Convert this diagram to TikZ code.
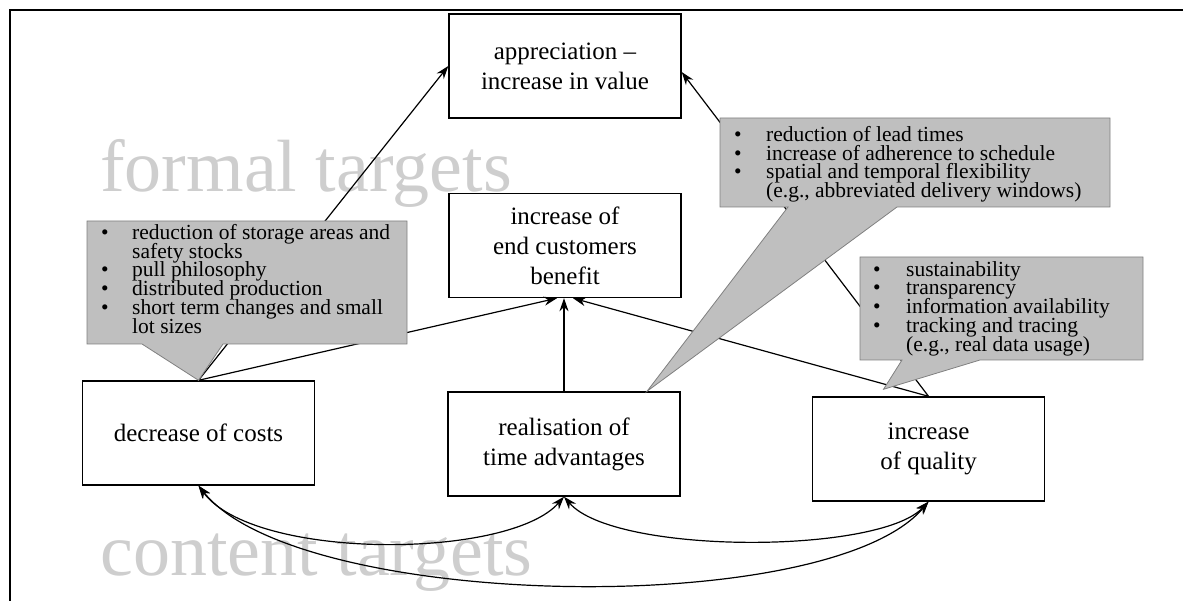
\documentclass[tikz,border=0pt]{standalone}
\usepackage{fontspec}
\setmainfont{Liberation Serif}
\usetikzlibrary{arrows.meta}
\definecolor{calloutfill}{RGB}{191,191,191}
\definecolor{calloutedge}{RGB}{128,128,128}
\definecolor{watermarkgray}{RGB}{206,206,206}
% tightly set text for the note bubbles
\newcommand\notefont{\fontsize{21.5}{18.8}\selectfont\lineskiplimit=-100pt\relax}

\begin{document}
\begin{tikzpicture}[x=1pt,y=-1pt,
  target/.style={draw, line width=1.4pt, fill=white, minimum width=232pt,
    minimum height=104pt, inner sep=0pt, align=center,
    font=\fontsize{25}{30}\selectfont},
  link/.style={line width=1.2pt, -{Stealth[length=13pt,width=9pt]}},
  both/.style={line width=1.2pt,
    {Stealth[length=13pt,width=9pt]}-{Stealth[length=13pt,width=9pt]}},
  bubble/.style={fill=calloutfill, draw=calloutedge, line width=0.8pt},
  bubbletext/.style={anchor=north west, inner sep=0pt, align=left,
    font=\notefont},
  watermark/.style={text=watermarkgray, font=\fontsize{74}{80}\selectfont,
    anchor=base west, inner sep=0pt}
]
\useasboundingbox (0,0) rectangle (1183,601);

% frame
\draw[line width=2.5pt] (10,601) -- (10,10) -- (1183,10);

% background labels
\node[watermark] (formal) at (100,192) {formal targets};
\node[watermark] (content) at (100,575) {content targets};

% target boxes
\node[target] (A) at (565,66) {appreciation –\\increase in value};
\node[target] (B) at (565,245.5) {increase of\\end customers\\benefit};
\node[target] (C) at (198.5,433) {decrease of costs};
\node[target] (D) at (564,444) {realisation of\\time advantages};
\node[target] (E) at (928.5,449) {increase\\of quality};

% influences
\draw[link] (C.north) -- (A.west);
\draw[link] (C.north) -- ([xshift=-8pt]B.south);
\draw[link] (D.north) -- (D.north |- B.south);
\draw[link] (E.north) -- ([xshift=8pt]B.south);
\draw[link] (E.north) -- ([yshift=-6pt]A.east);

% mutual relations of the content targets
\draw[both] (C.south) .. controls +(55,75) and +(-55,63) .. (D.south);
\draw[both] (D.south) .. controls +(50,58) and +(-50,53) .. (E.south);
\draw[both] (C.south) .. controls +(100,125) and +(-100,118) .. (E.south);

% callouts
\coordinate (tipcost) at (C.north);
\path[bubble] (87,221) -- (407,221) -- (407,344) -- (223,344) -- (tipcost)
  -- (142,344) -- (87,344) -- cycle;
\node[bubbletext] (costnotes) at (101,224) {%
\makebox[31pt][l]{\textbullet}reduction of storage areas and\\
\hspace*{31pt}safety stocks\\
\makebox[31pt][l]{\textbullet}pull philosophy\\
\makebox[31pt][l]{\textbullet}distributed production\\
\makebox[31pt][l]{\textbullet}short term changes and small\\
\hspace*{31pt}lot sizes};

\coordinate (tiptime) at ([xshift=83pt]D.north);
\path[bubble] (720,118) -- (1110,118) -- (1110,207) -- (897,207) -- (tiptime)
  -- (788,207) -- (720,207) -- cycle;
\node[bubbletext] (timenotes) at (734,126) {%
\makebox[32pt][l]{\textbullet}reduction of lead times\\
\makebox[32pt][l]{\textbullet}increase of adherence to schedule\\
\makebox[32pt][l]{\textbullet}spatial and temporal flexibility\\
\hspace*{32pt}(e.g., abbreviated delivery windows)};

\coordinate (tipquality) at ([xshift=-45pt,yshift=7pt]E.north);
\path[bubble] (860,257) -- (1143,257) -- (1143,360) -- (980,360) -- (tipquality)
  -- (902,360) -- (860,360) -- cycle;
\node[bubbletext] (qualitynotes) at (873,261) {%
\makebox[33pt][l]{\textbullet}sustainability\\
\makebox[33pt][l]{\textbullet}transparency\\
\makebox[33pt][l]{\textbullet}information availability\\
\makebox[33pt][l]{\textbullet}tracking and tracing\\
\hspace*{33pt}(e.g., real data usage)};
\end{tikzpicture}
\end{document}
